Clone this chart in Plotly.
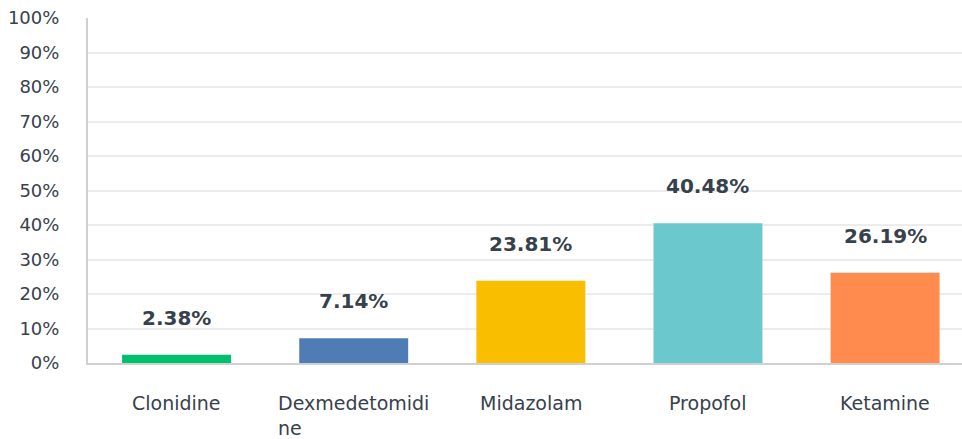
import plotly.graph_objects as go

categories = ["Clonidine", "Dexmedetomidine", "Midazolam", "Propofol", "Ketamine"]
tick_labels = ["Clonidine", "Dexmedetomidi<br>ne", "Midazolam", "Propofol", "Ketamine"]
values = [2.38, 7.14, 23.81, 40.48, 26.19]
colors = ["#00bf6f", "#507cb6", "#f9be00", "#6bc8cd", "#ff8b4f"]
y_ticks = list(range(0, 101, 10))

FONT = "DejaVu Sans"
TXT = "#37414c"

xs = list(range(len(categories)))
fig = go.Figure(go.Bar(x=xs, y=values, marker=dict(color=colors, line=dict(width=0)),
                       width=0.615, hoverinfo="skip"))

for x, v, lab in zip(xs, values, tick_labels):
    fig.add_annotation(x=x, y=v, text=f"<b>{v:.2f}%</b>", showarrow=False,
                       yanchor="middle", yshift=37,
                       font=dict(family=FONT, size=20, color=TXT))
    fig.add_annotation(x=x, y=0, text=lab, showarrow=False, align="left",
                       xanchor="center", yanchor="top", yshift=-27,
                       font=dict(family=FONT, size=19, color=TXT))

fig.update_layout(
    width=962, height=439,
    margin=dict(l=87.5, r=0, t=18, b=75.5, autoexpand=False),
    paper_bgcolor="white", plot_bgcolor="white",
    showlegend=False,
    font=dict(family=FONT, color=TXT),
    xaxis=dict(range=[-0.5, 4.434], showticklabels=False, showgrid=False,
               zeroline=False, showline=True, linecolor="#d0d0d0", linewidth=2,
               fixedrange=True, automargin=False),
    yaxis=dict(range=[0, 100], tickvals=y_ticks, ticktext=[f"{t}%" for t in y_ticks],
               showgrid=True, gridcolor="#ececec", gridwidth=1.5,
               zeroline=False, showline=True, linecolor="#d0d0d0", linewidth=2,
               ticks="", ticklabelstandoff=23, automargin=False,
               tickfont=dict(family=FONT, size=18, color=TXT), fixedrange=True),
)

fig.write_html("out.html", config={"displayModeBar": False},
               post_script="document.body.style.margin='0';document.body.style.overflow='hidden';")
